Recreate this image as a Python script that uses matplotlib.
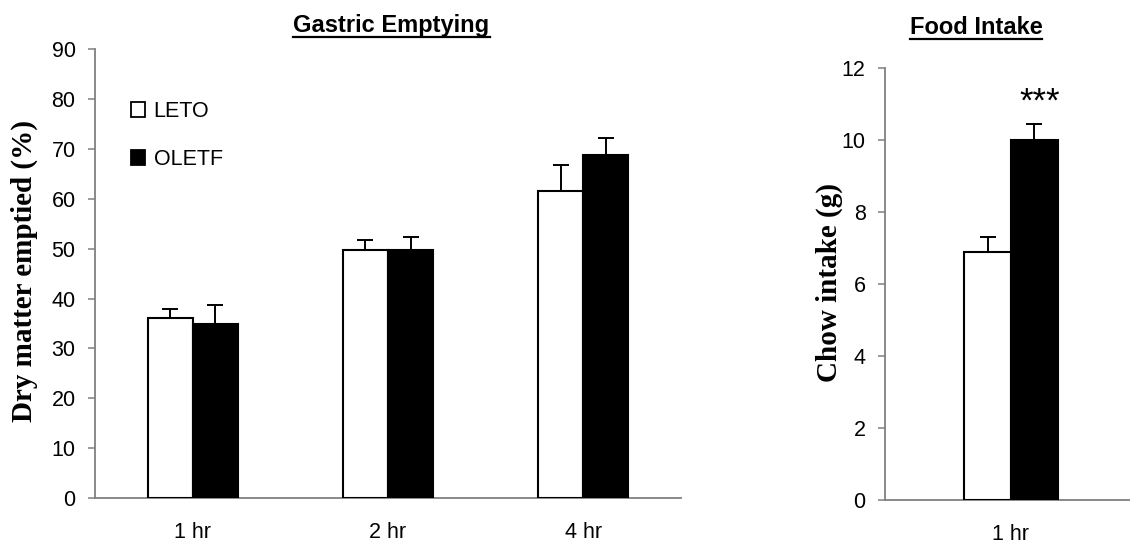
import matplotlib
matplotlib.use("Agg")
import matplotlib.pyplot as plt
import numpy as np
from matplotlib.patches import Patch
from matplotlib.lines import Line2D

# ---- data ----
ge_categories = ["1 hr", "2 hr", "4 hr"]
ge_leto = [36.1, 49.8, 61.5]
ge_leto_err = [1.9, 1.9, 5.3]
ge_oletf = [35.0, 49.8, 68.8]
ge_oletf_err = [3.8, 2.6, 3.4]

fi_categories = ["1 hr"]
fi_leto = [6.9]
fi_leto_err = [0.42]
fi_oletf = [10.0]
fi_oletf_err = [0.46]

series_names = ["LETO", "OLETF"]

W, H = 1130, 543
fig = plt.figure(figsize=(W / 100, H / 100), dpi=100)

SANS = ["Liberation Sans", "DejaVu Sans"]
SERIF = ["Liberation Serif", "DejaVu Serif"]
plt.rcParams["font.family"] = SANS

spine_col = "#808080"
tick_fs = 15.5


def px_axes(x0, x1, ybot, ytop):
    return fig.add_axes([x0 / W, (H - ybot) / H, (x1 - x0) / W, (ybot - ytop) / H])


def style(ax):
    for s in ["top", "right"]:
        ax.spines[s].set_visible(False)
    for s in ["left", "bottom"]:
        ax.spines[s].set_color(spine_col)
        ax.spines[s].set_linewidth(1.3)
        ax.spines[s].set_zorder(0)
    ax.tick_params(axis="y", direction="out", length=5, width=1.1, color=spine_col,
                   labelsize=tick_fs, pad=9, labelcolor="black")
    ax.tick_params(axis="x", length=0, labelsize=tick_fs, pad=17, labelcolor="black")


ekw = dict(elinewidth=1.4, capthick=1.4, ecolor="black")

# ---- Gastric Emptying ----
ax1 = px_axes(95, 681, 498, 49.3)
x = np.arange(len(ge_categories))
bw = 0.2304
ax1.bar(x - bw / 2, ge_leto, bw, color="white", edgecolor="black", linewidth=1.5,
        yerr=[np.zeros(len(ge_leto)), ge_leto_err], capsize=5.5,
        error_kw=ekw, zorder=2)
ax1.bar(x + bw / 2, ge_oletf, bw, color="black", edgecolor="black", linewidth=1.5,
        yerr=[np.zeros(len(ge_oletf)), ge_oletf_err], capsize=5.5,
        error_kw=ekw, zorder=2)
ax1.set_xlim(-0.5, 2.5)
ax1.set_ylim(0, 90)
ax1.set_yticks(np.arange(0, 91, 10))
ax1.set_xticks(x)
ax1.set_xticklabels(ge_categories)
style(ax1)

handles = [Patch(facecolor="white", edgecolor="black", linewidth=1.3),
           Patch(facecolor="black", edgecolor="black", linewidth=1.3)]
leg = ax1.legend(handles, series_names, loc="upper left",
                 bbox_to_anchor=(131 / W, (H - 101) / H), bbox_transform=fig.transFigure,
                 frameon=False, fontsize=tick_fs, handlelength=0.65, handleheight=0.65,
                 handletextpad=0.4, labelspacing=1.25, borderpad=0, borderaxespad=0)

# ---- Food Intake ----
ax2 = px_axes(885, 1137, 500, 68.3)
x2 = np.arange(len(fi_categories))
bw2 = 0.1865
ax2.bar(x2 - bw2 / 2, fi_leto, bw2, color="white", edgecolor="black", linewidth=1.5,
        yerr=[np.zeros(len(fi_leto)), fi_leto_err], capsize=5.5,
        error_kw=ekw, zorder=2)
ax2.bar(x2 + bw2 / 2, fi_oletf, bw2, color="black", edgecolor="black", linewidth=1.5,
        yerr=[np.zeros(len(fi_oletf)), fi_oletf_err], capsize=5.5,
        error_kw=ekw, zorder=2)
ax2.set_xlim(-0.5, 0.5)
ax2.set_ylim(0, 12)
ax2.set_yticks(np.arange(0, 13, 2))
ax2.set_xticks(x2)
ax2.set_xticklabels(fi_categories)
style(ax2)
ax2.text(x2[0] + bw2 / 2 + 0.02, 11.05, "***", ha="center", va="center", fontsize=25)

# ---- axis labels ----
fig.text(24 / W, 1 - 271 / H, "Dry matter emptied (%)", rotation=90, ha="center",
         va="center", fontsize=21, fontweight="bold", family=SERIF)
fig.text(829 / W, 1 - 282.5 / H, "Chow intake (g)", rotation=90, ha="center",
         va="center", fontsize=21, fontweight="bold", family=SERIF)

# ---- underlined titles ----
t1 = fig.text(391.5 / W, 1 - 32 / H, "Gastric Emptying", ha="center", va="baseline",
              fontsize=17, fontweight="bold")
t2 = fig.text(976 / W, 1 - 33.5 / H, "Food Intake", ha="center", va="baseline",
              fontsize=17, fontweight="bold")
fig.canvas.draw()
r = fig.canvas.get_renderer()
for t, yline in [(t1, 36.5), (t2, 38.5)]:
    bb = t.get_window_extent(renderer=r)
    yl = 1 - yline / H
    fig.add_artist(Line2D([bb.x0 / W, bb.x1 / W], [yl, yl], transform=fig.transFigure,
                          color="black", linewidth=1.6))

fig.savefig("out.png", dpi=100)
